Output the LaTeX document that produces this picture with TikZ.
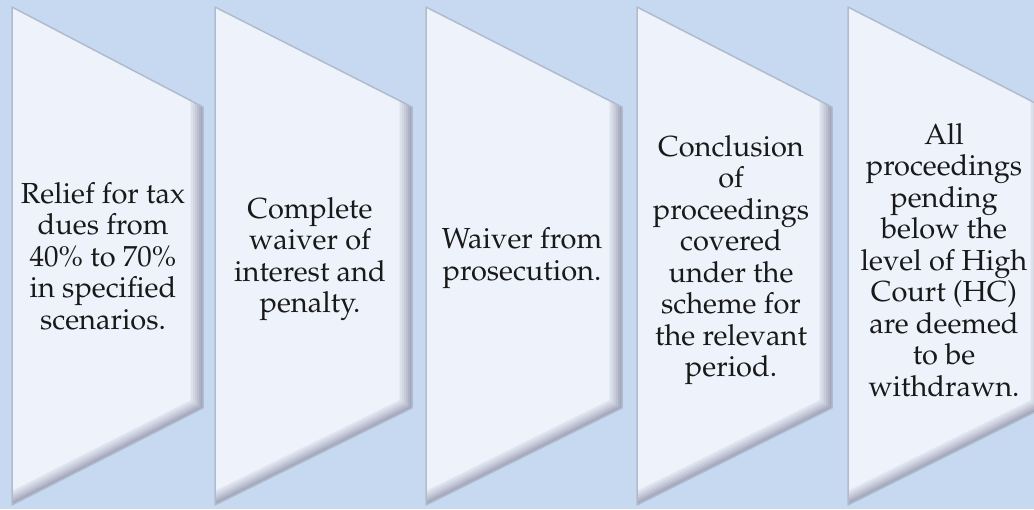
\documentclass[tikz,border=0pt]{standalone}
\usepackage[T1]{fontenc}
\usepackage{mathpazo}
\usepackage{tikz}

\definecolor{bgblue}{RGB}{198,217,240}
\definecolor{face}{RGB}{237,242,251}
\definecolor{bevelgray}{RGB}{162,166,186}
\definecolor{edgeline}{RGB}{176,188,206}

\begin{document}
\begin{tikzpicture}[x=1pt,y=-1pt,
    card/.style={align=center,inner sep=0pt,text=black!90,
        font=\fontsize{29}{31.5}\selectfont}]
    \useasboundingbox (0,0) rectangle (1034,509);
    \clip (0,0) rectangle (1034,509);
    \fill[bgblue] (0,0) rectangle (1034,509);

    % bevelled panels
    \foreach \lft/\rgt in {12/203,215/412,426/622,637/832,848/1043}{
        \pgfmathsetmacro{\wd}{\rgt-\lft}
        \fill[bevelgray] (\lft,7) -- (\rgt,107) -- (\rgt,408) -- (\lft,505) -- cycle;
        \foreach \k/\p in {2/15,4/32,6/48,8/63,10/77,12/90,13/100}{
            \fill[face!\p!bevelgray] (\lft,7)
                -- ({\rgt-\k},{7+(100/\wd)*(\wd-\k)})
                -- ({\rgt-\k},{505-(97/\wd)*(\wd-\k)-1.12*\k})
                -- (\lft,{505-1.12*\k}) -- cycle;
        }
        \draw[edgeline,line width=1.5pt,line join=round]
            (\lft,7) -- (\rgt,107) -- (\rgt,408) -- (\lft,505) -- cycle;
    }

    \node[card] (relief) at (103,256) {Relief for tax\\dues from\\40\% to 70\%\\in specified\\scenarios.};
    \node[card] (waiver) at (310,259) {Complete\\waiver of\\interest and\\penalty.};
    \node[card] (prosecution) at (522,258) {Waiver from\\prosecution.};
    \node[card] (conclusion) at (731,260) {Conclusion\\of\\proceedings\\covered\\under the\\scheme for\\the relevant\\period.};
    \node[card] (withdrawn) at (944,260) {All\\proceedings\\pending\\below the\\level of High\\Court (HC)\\are deemed\\to be\\withdrawn.};
\end{tikzpicture}
\end{document}
